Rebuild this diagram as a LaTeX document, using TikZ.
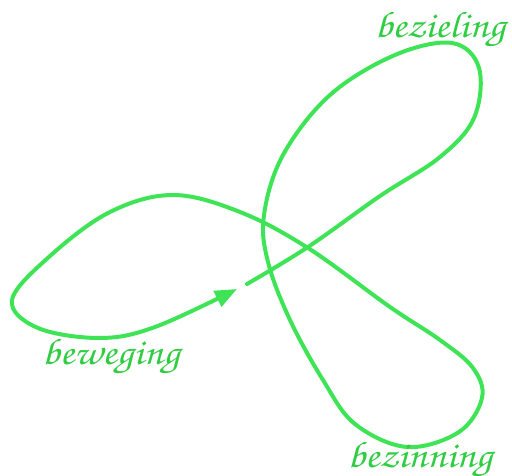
\documentclass[tikz,border=0pt]{standalone}
\usepackage[T1,TU]{fontenc}
\usetikzlibrary{arrows.meta}
\definecolor{curvegreen}{RGB}{62,228,86}
\definecolor{textgreen}{RGB}{48,204,66}
\tikzset{
  loopline/.style={draw=curvegreen, line width=4pt, line cap=round,
    -{Triangle[length=22pt,width=17pt]}},
  lbl/.style={text=textgreen, inner sep=0pt, anchor=base,
    font=\fontencoding{T1}\fontfamily{pzc}\fontseries{mb}\fontshape{it}\fontsize{37}{37}\selectfont}
}
\newcommand\widelbl[1]{\scalebox{1.13}[1]{#1}}
\begin{document}
\begin{tikzpicture}[x=1pt,y=-1pt]
\useasboundingbox (0,0) rectangle (512,476);
\draw[loopline] plot[smooth, tension=0.6] coordinates {
 (247,284) (308,247) (380,196) (440,157) (474,118) (479,68)
 (452,43) (395,55) (330,95) (283,155) (264,215) (268,262) (290,320)
 (323,380) (355,424) (407,447) (459,432) (482,398) (473,368) (440,340) (390,307)
 (308,248) (240,212) (173,195) (110,212) (50,256) (12,300)
 (38,328) (100,338) (155,327) (237,289)};
\node[lbl] (bezieling) at (440,38) {\widelbl{bezieling}};
\node[lbl] (beweging) at (111,364) {\widelbl{beweging}};
\node[lbl] (bezinning) at (420,467) {\widelbl{bezinning}};
\end{tikzpicture}
\end{document}
